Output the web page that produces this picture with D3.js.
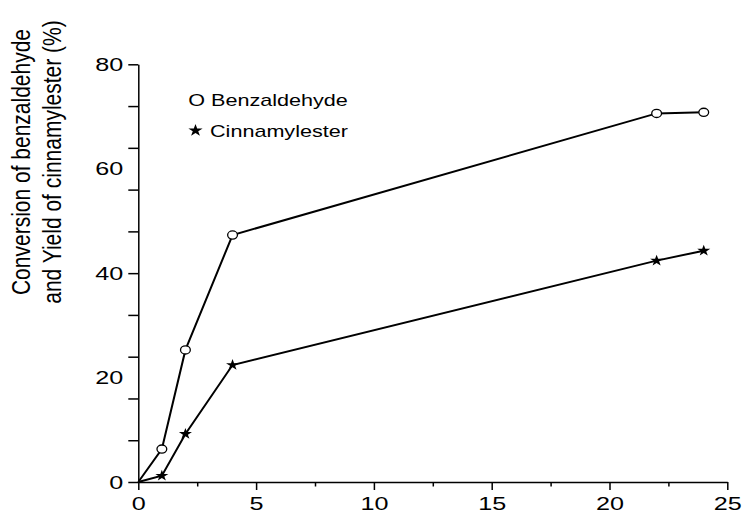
<!DOCTYPE html>
<html>
<head>
<meta charset="utf-8">
<script src="https://cdn.jsdelivr.net/npm/d3@7"></script>
<style>
  body { margin: 0; background: #fff; }
  svg { font-family: "Liberation Sans", Arial, sans-serif; }
</style>
</head>
<body>
<svg width="744" height="514"></svg>
<script>
// reaction time (h)
var time = [0, 1, 2, 4, 22, 24];
// conversion of benzaldehyde (%)
var benzaldehyde = [0, 6.3, 25.3, 47.3, 70.6, 70.8];
// yield of cinnamylester (%)
var cinnamylester = [0, 1.2, 9.2, 22.4, 42.4, 44.3];

var xMajor = [0, 5, 10, 15, 20, 25],
    xMinor = [2.5, 7.5, 12.5, 17.5, 22.5],
    yTicks = [0, 8, 16, 24, 32, 40, 48, 56, 64, 72, 80],
    yLabels = [0, 20, 40, 60, 80];

var svg = d3.select('svg'),
    stretch = 1.4;   // the picture's text is drawn wide

var x = d3.scaleLinear().domain([0, 25]).range([138.3, 727.3]),
    y = d3.scaleLinear().domain([0, 80]).range([482, 64.3]);

// x axis
var gx = svg.append('g').attr('transform', 'translate(0,' + y(0) + ')');
gx.call(d3.axisBottom(x).tickValues(xMajor).tickSize(8).tickSizeOuter(0).tickFormat(d3.format('d')));
gx.append('g').call(d3.axisBottom(x).tickValues(xMinor).tickSize(4.5).tickSizeOuter(0).tickFormat(''))
  .select('.domain').remove();
gx.selectAll('text')
    .attr('y', 27.8).attr('dy', 0)
    .attr('transform', 'scale(' + stretch + ',1)')
    .style('font-size', '18px').attr('fill', '#000');

// y axis
var gy = svg.append('g').attr('transform', 'translate(' + x(0) + ',0)');
gy.call(d3.axisLeft(y).tickValues(yTicks).tickSize(10).tickSizeOuter(0).tickFormat(''));
var gyl = gy.append('g').call(d3.axisLeft(y).tickValues(yLabels).tickSize(0).tickFormat(d3.format('d')));
gyl.select('.domain').remove();
gyl.selectAll('text')
    .attr('x', -15 / stretch).attr('dy', '0.34em')
    .attr('transform', 'scale(' + stretch + ',1)')
    .style('font-size', '18px').attr('fill', '#000');

svg.selectAll('.domain, .tick line').attr('stroke', '#000').attr('stroke-width', 1.5);

// axis title
var title = svg.append('g')
    .attr('transform', 'translate(0,162) scale(1.2,1) rotate(-90)')
    .attr('text-anchor', 'middle')
    .style('font-size', '21px');
title.append('text').attr('x', 0).attr('y', 30 / 1.2).text('Conversion of benzaldehyde');
title.append('text').attr('x', 0).attr('y', 61 / 1.2).text('and Yield of cinnamylester (%)');

// lines
var line = d3.line()
    .x(function(d, i) { return x(time[i]); })
    .y(function(d) { return y(d); });

[benzaldehyde, cinnamylester].forEach(function(s) {
  svg.append('path')
      .attr('d', line(s))
      .attr('fill', 'none')
      .attr('stroke', '#000')
      .attr('stroke-width', 2);
});

// markers (none at the origin)
svg.selectAll('.benz')
    .data(benzaldehyde.slice(1))
    .enter().append('ellipse')
    .attr('cx', function(d, i) { return x(time[i + 1]); })
    .attr('cy', function(d) { return y(d); })
    .attr('rx', 4.9).attr('ry', 4.1)
    .attr('fill', '#fff').attr('stroke', '#000').attr('stroke-width', 1.3);

var star = d3.symbol().type(d3.symbolStar);
svg.selectAll('.cinn')
    .data(cinnamylester.slice(1))
    .enter().append('path')
    .attr('d', star.size(40)())
    .attr('transform', function(d, i) {
      return 'translate(' + x(time[i + 1]) + ',' + y(d) + ') scale(1.15,1)';
    })
    .attr('fill', '#000');

// legend
var leg = svg.append('g').style('font-size', '17px');
leg.append('text')
    .attr('transform', 'translate(188.3,105.7) scale(1.27,1)')
    .text('O Benzaldehyde');
leg.append('path')
    .attr('d', star.size(48)())
    .attr('transform', 'translate(195.5,130.5) scale(1.15,1)')
    .attr('fill', '#000');
leg.append('text')
    .attr('transform', 'translate(210,137.3) scale(1.27,1)')
    .text('Cinnamylester');
</script>
</body>
</html>
